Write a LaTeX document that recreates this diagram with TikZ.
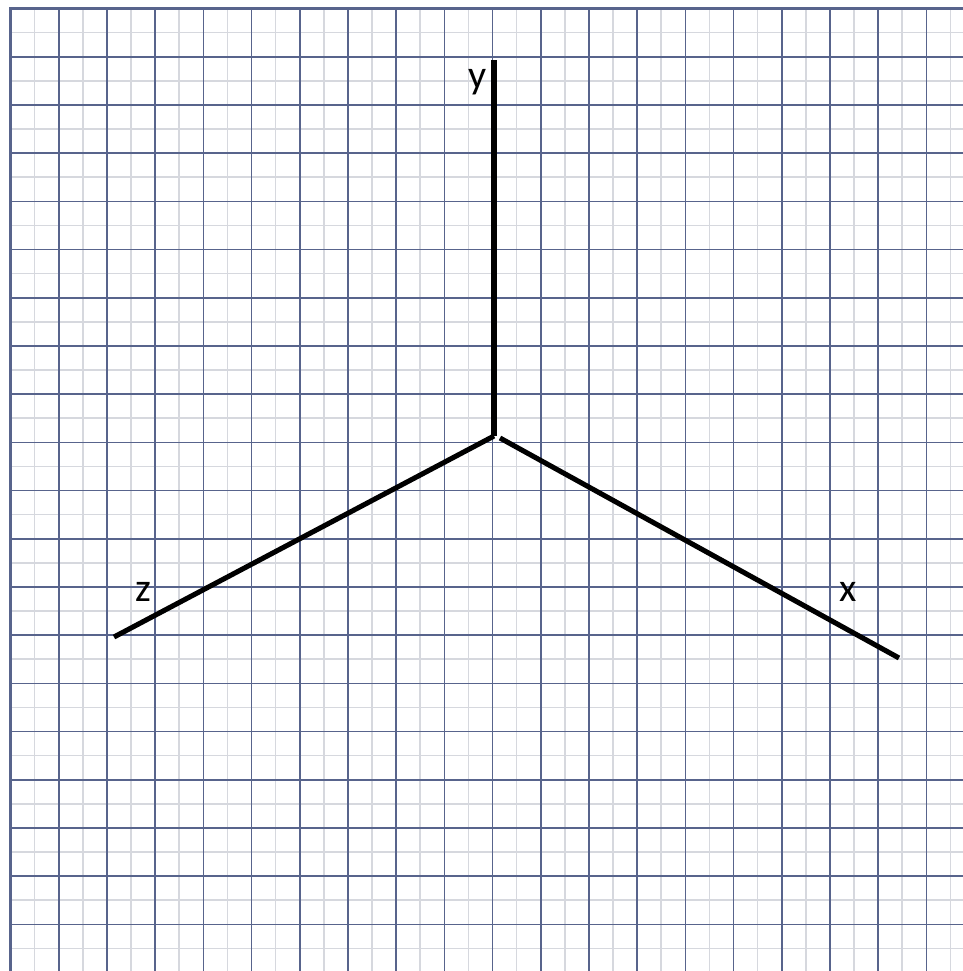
\documentclass[tikz,border=0pt]{standalone}
\usepackage{fontspec}
\setmainfont{Carlito}
\definecolor{majorc}{RGB}{88,100,140}
\definecolor{minorc}{RGB}{214,216,222}
\begin{document}
\begin{tikzpicture}[x=0.75pt,y=-0.75pt,
  minorline/.style={draw=minorc,line width=1.2pt},
  majorline/.style={draw=majorc,line width=1.2pt},
  borderline/.style={draw=majorc,line width=2pt},
  axisline/.style={draw=black,line width=3.8pt},
  axislabel/.style={font=\fontsize{30}{30}\selectfont,inner sep=0pt}]
\useasboundingbox (0,0) rectangle (963,971);
\fill[white] (0,0) rectangle (963,971);
% minor grid
\foreach \i in {0,...,19}{
  \draw[minorline] ({34.6+48.2*\i},9) -- ({34.6+48.2*\i},971);
  \draw[minorline] (10,{32.6+48.2*\i}) -- (963,{32.6+48.2*\i});
}
% major grid
\foreach \i in {1,...,19}{
  \draw[majorline] ({10.5+48.2*\i},9) -- ({10.5+48.2*\i},971);
  \draw[majorline] (10,{8.5+48.2*\i}) -- (963,{8.5+48.2*\i});
}
% border
\draw[borderline] (10.5,971) -- (10.5,8.5) -- (963,8.5);
% axes
\coordinate (O) at (494,436);
\coordinate (Ox) at (500,438);
\coordinate (Y) at (494,60);
\coordinate (X) at (899,658);
\coordinate (Z) at (114,637);
\draw[axisline] (O) -- (Y);
\draw[axisline] (O) -- (Z);
\draw[axisline] (Ox) -- (X);
\node[axislabel] (ly) at (478,82) {y};
\node[axislabel] (lz) at (143,592) {z};
\node[axislabel] (lx) at (848,592) {x};
\end{tikzpicture}
\end{document}
